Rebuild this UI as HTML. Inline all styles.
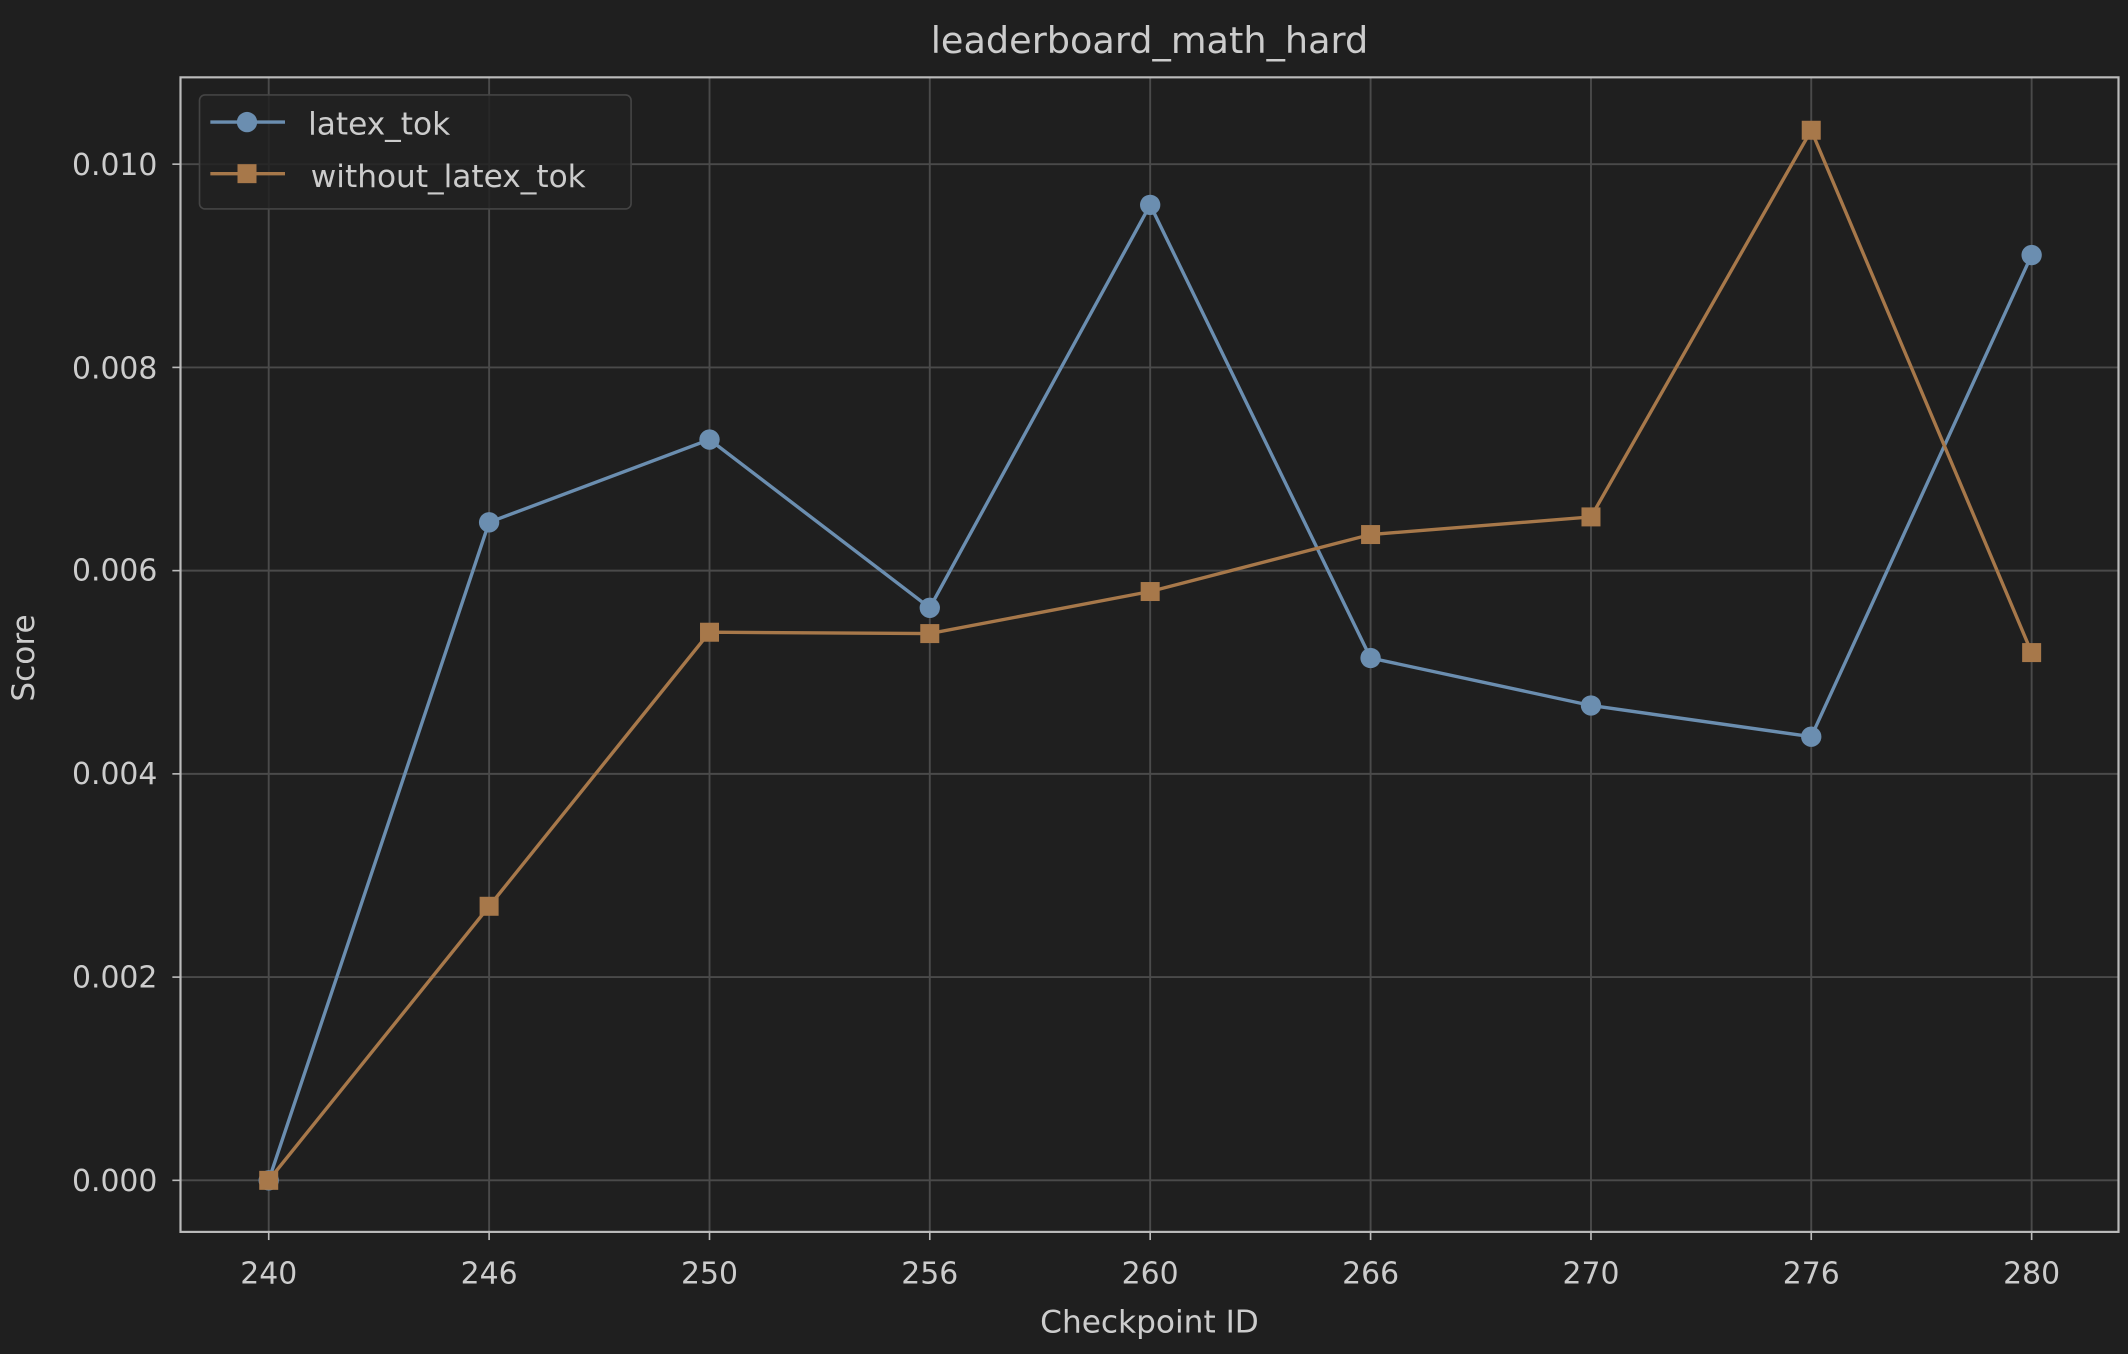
<!DOCTYPE html>
<html><head><meta charset="utf-8"><style>
html,body{margin:0;padding:0;background:#1f1f1f;}
svg{display:block;}
text{font-family:"DejaVu Sans","Liberation Sans",sans-serif;fill:#cccccc;}
</style></head><body>
<svg width="2128" height="1354" viewBox="0 0 1568 998" preserveAspectRatio="none" xmlns="http://www.w3.org/2000/svg">
<rect width="1568" height="998" fill="#1f1f1f"/>
<g stroke="#4a4a4a" stroke-width="1.4">
<line x1="198" y1="57" x2="198" y2="908"/><line x1="360.4" y1="57" x2="360.4" y2="908"/><line x1="522.8" y1="57" x2="522.8" y2="908"/><line x1="685.1" y1="57" x2="685.1" y2="908"/><line x1="847.5" y1="57" x2="847.5" y2="908"/><line x1="1009.9" y1="57" x2="1009.9" y2="908"/><line x1="1172.3" y1="57" x2="1172.3" y2="908"/><line x1="1334.6" y1="57" x2="1334.6" y2="908"/><line x1="1497" y1="57" x2="1497" y2="908"/>
<line x1="133" y1="870" x2="1561" y2="870"/><line x1="133" y1="720.2" x2="1561" y2="720.2"/><line x1="133" y1="570.4" x2="1561" y2="570.4"/><line x1="133" y1="420.6" x2="1561" y2="420.6"/><line x1="133" y1="270.8" x2="1561" y2="270.8"/><line x1="133" y1="121" x2="1561" y2="121"/>
</g>
<rect x="133" y="57" width="1428" height="851" fill="none" stroke="#bbbbbb" stroke-width="1.6"/>
<g stroke="#bbbbbb" stroke-width="1.2">
<line x1="198" y1="908" x2="198" y2="914"/><line x1="360.4" y1="908" x2="360.4" y2="914"/><line x1="522.8" y1="908" x2="522.8" y2="914"/><line x1="685.1" y1="908" x2="685.1" y2="914"/><line x1="847.5" y1="908" x2="847.5" y2="914"/><line x1="1009.9" y1="908" x2="1009.9" y2="914"/><line x1="1172.3" y1="908" x2="1172.3" y2="914"/><line x1="1334.6" y1="908" x2="1334.6" y2="914"/><line x1="1497" y1="908" x2="1497" y2="914"/>
<line x1="127" y1="870" x2="133" y2="870"/><line x1="127" y1="720.2" x2="133" y2="720.2"/><line x1="127" y1="570.4" x2="133" y2="570.4"/><line x1="127" y1="420.6" x2="133" y2="420.6"/><line x1="127" y1="270.8" x2="133" y2="270.8"/><line x1="127" y1="121" x2="133" y2="121"/>
</g>
<g font-size="22" text-anchor="middle">
<text x="198" y="946">240</text><text x="360.4" y="946">246</text><text x="522.8" y="946">250</text><text x="685.1" y="946">256</text><text x="847.5" y="946">260</text><text x="1009.9" y="946">266</text><text x="1172.3" y="946">270</text><text x="1334.6" y="946">276</text><text x="1497" y="946">280</text>
</g>
<g font-size="22" text-anchor="end">
<text x="116" y="878">0.000</text><text x="116" y="728">0.002</text><text x="116" y="578">0.004</text><text x="116" y="428">0.006</text><text x="116" y="279">0.008</text><text x="116" y="129">0.010</text>
</g>
<text x="847" y="982" font-size="23" text-anchor="middle">Checkpoint ID</text>
<text x="25" y="485" font-size="23" text-anchor="middle" transform="rotate(-90 25 485)">Score</text>
<text x="847" y="39" font-size="27" text-anchor="middle">leaderboard_math_hard</text>
<polyline fill="none" stroke="#6b8eb0" stroke-width="2.5" points="198,870 360.4,385 522.8,324 685.1,448 847.5,151 1009.9,485 1172.3,520 1334.6,543 1497,188"/>
<g fill="#6b8eb0">
<circle cx="198" cy="870" r="7.5"/><circle cx="360.4" cy="385" r="7.5"/><circle cx="522.8" cy="324" r="7.5"/><circle cx="685.1" cy="448" r="7.5"/><circle cx="847.5" cy="151" r="7.5"/><circle cx="1009.9" cy="485" r="7.5"/><circle cx="1172.3" cy="520" r="7.5"/><circle cx="1334.6" cy="543" r="7.5"/><circle cx="1497" cy="188" r="7.5"/>
</g>
<polyline fill="none" stroke="#a7784a" stroke-width="2.5" points="198,870 360.4,668 522.8,466 685.1,467 847.5,436 1009.9,394 1172.3,381 1334.6,96 1497,481"/>
<g fill="#a7784a">
<rect x="191" y="863" width="14" height="14"/><rect x="353.4" y="661" width="14" height="14"/><rect x="515.8" y="459" width="14" height="14"/><rect x="678.1" y="460" width="14" height="14"/><rect x="840.5" y="429" width="14" height="14"/><rect x="1002.9" y="387" width="14" height="14"/><rect x="1165.3" y="374" width="14" height="14"/><rect x="1327.6" y="89" width="14" height="14"/><rect x="1490" y="474" width="14" height="14"/>
</g>
<rect x="147" y="70" width="318" height="84" rx="4" fill="#222222" fill-opacity="0.85" stroke="#444" stroke-width="1.2"/>
<line x1="155" y1="90" x2="210" y2="90" stroke="#6b8eb0" stroke-width="2.5"/><circle cx="182" cy="90" r="7.5" fill="#6b8eb0"/>
<line x1="155" y1="128" x2="210" y2="128" stroke="#a7784a" stroke-width="2.5"/><rect x="175" y="121" width="14" height="14" fill="#a7784a"/>
<text x="227" y="99" font-size="23">latex_tok</text>
<text x="229" y="138" font-size="23">without_latex_tok</text>
</svg>
</body></html>
